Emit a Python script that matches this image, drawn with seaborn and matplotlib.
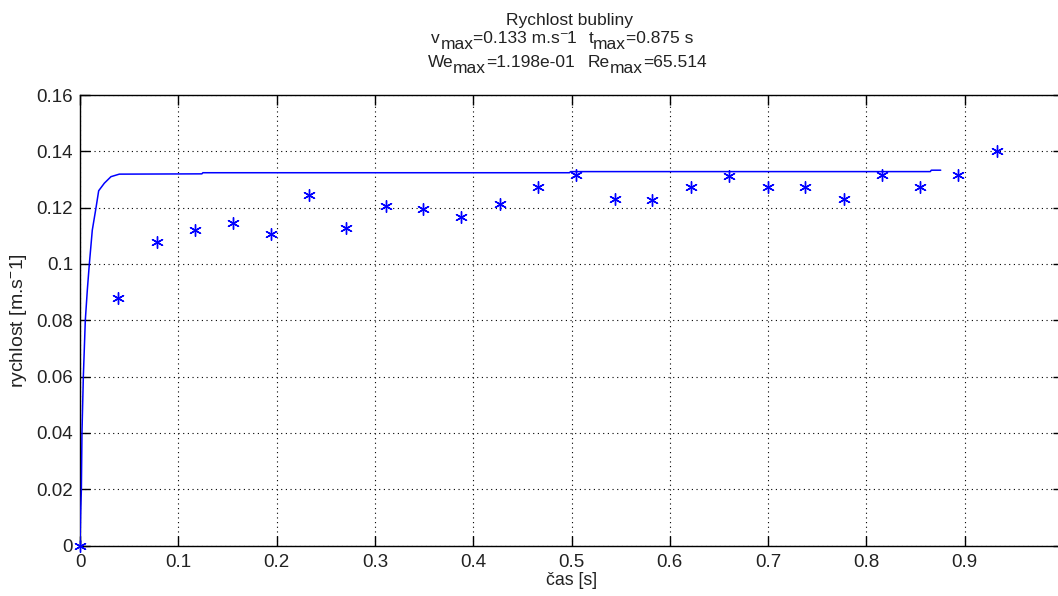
import matplotlib
matplotlib.use("Agg")
import matplotlib.pyplot as plt
import seaborn as sns
import pandas as pd

# measured bubble velocity (asterisks)
star_t = [0.0, 0.039, 0.078, 0.117, 0.156, 0.194, 0.233, 0.271, 0.311, 0.349,
          0.388, 0.427, 0.466, 0.505, 0.544, 0.582, 0.622, 0.660, 0.700, 0.738,
          0.777, 0.816, 0.855, 0.893, 0.933]
star_v = [0.0, 0.0879, 0.1077, 0.1121, 0.1145, 0.1107, 0.1245, 0.1127, 0.1206, 0.1194,
          0.1166, 0.1212, 0.1275, 0.1316, 0.1231, 0.1227, 0.1272, 0.1314, 0.1272, 0.1272,
          0.1231, 0.1316, 0.1272, 0.1316, 0.1402]

# computed velocity curve
line_t = [0.0, 0.0007, 0.0014, 0.002, 0.0034, 0.0054, 0.0075, 0.0095, 0.0125, 0.0163,
          0.019, 0.0248, 0.0315, 0.040, 0.124, 0.125, 0.498, 0.499, 0.865, 0.866, 0.8756]
line_v = [0.0, 0.012, 0.02, 0.04, 0.06, 0.08, 0.091, 0.10, 0.112, 0.12,
          0.126, 0.1287, 0.131, 0.1319, 0.1320, 0.1324, 0.1324, 0.1328, 0.1328, 0.1333, 0.1333]

x_ticks = [0.0, 0.1, 0.2, 0.3, 0.4, 0.5, 0.6, 0.7, 0.8, 0.9]
x_labels = ["0", "0.1", "0.2", "0.3", "0.4", "0.5", "0.6", "0.7", "0.8", "0.9"]
y_ticks = [0.0, 0.02, 0.04, 0.06, 0.08, 0.10, 0.12, 0.14, 0.16]
y_labels = ["0", "0.02", "0.04", "0.06", "0.08", "0.1", "0.12", "0.14", "0.16"]

# title lines as (text, vertical offset in px, gap before in px, font size)
title_1 = [("Rychlost bubliny", 0, 0, 12.5)]
title_2 = [("v", 0, 0, 12.5), ("max", 6, 1, 12.5), ("=0.133 m.s", 0, 0, 12.5),
           ("¯", 0, 0, 8.5), ("1", 0, 0, 12.5),
           ("t", 0, 12, 12.5), ("max", 6, 0, 12.5), ("=0.875 s", 0, 0, 12.5)]
title_3 = [("We", 0, 0, 12.5), ("max", 6, 0, 12.5), ("=1.198e-01", 0, 0, 12.5),
           ("Re", 0, 13, 12.5), ("max", 6, 0, 12.5), ("=65.514", 0, 0, 12.5)]
x_title = "čas [s]"
y_title = r"rychlost [m.s$^{\mathregular{-}}$1]"

sns.set_theme(style="white")
plt.rcParams["font.family"] = ["Liberation Sans", "DejaVu Sans"]
plt.rcParams["mathtext.fontset"] = "custom"
plt.rcParams["mathtext.rm"] = "Liberation Sans"
plt.rcParams["mathtext.it"] = "Liberation Sans"
plt.rcParams["mathtext.default"] = "regular"

TXT = "#222222"
W, H = 1058, 596
fig = plt.figure(figsize=(W / 100, H / 100), dpi=100)
fig.patch.set_facecolor("white")
ax = fig.add_axes([80 / W, (H - 545.6) / H, 983 / W, 450.6 / H])
ax.set_facecolor("white")

df_line = pd.DataFrame({"t": line_t, "v": line_v})
df_star = pd.DataFrame({"t": star_t, "v": star_v})

sns.lineplot(data=df_line, x="t", y="v", ax=ax, color="#0000ff", linewidth=1.1,
             sort=False, estimator=None, zorder=3)
sns.scatterplot(data=df_star, x="t", y="v", ax=ax, marker=(6, 2, 0), s=70,
                color="#0000ff", edgecolor="#0000ff", linewidth=1.0,
                zorder=4, clip_on=False)

ax.set_xlim(0, 1.0)
ax.set_ylim(0, 0.16)
ax.set_xticks(x_ticks)
ax.set_xticklabels(x_labels)
ax.set_yticks(y_ticks)
ax.set_yticklabels(y_labels)

ax.grid(True, color="black", linestyle=(0, (1, 3.2)), linewidth=0.8)
ax.set_axisbelow(True)
for sp in ax.spines.values():
    sp.set_color("black")
    sp.set_linewidth(1.0)

ax.tick_params(axis="both", direction="in", length=7, width=1.0, color="black",
               labelsize=13.5, labelcolor=TXT, top=True, right=True,
               bottom=True, left=True)
ax.tick_params(axis="x", pad=6)
ax.tick_params(axis="y", pad=5)

ax.set_xlabel(x_title, fontsize=12.8, color=TXT, labelpad=1)
ax.set_ylabel(y_title, fontsize=14, color=TXT, labelpad=5)


def draw_line(pieces, center_px, base_px):
    """Lay out text pieces left to right, centred on center_px (pixels from left)."""
    items = []
    for s, dy, gap, size in pieces:
        t = fig.text(0, 0, s, fontsize=size, ha="left", va="baseline", color=TXT)
        items.append((t, dy, gap))
    r = fig.canvas.get_renderer()
    widths = [t.get_window_extent(r).width for t, _, _ in items]
    total = sum(widths) + sum(g for _, _, g in items)
    x = center_px - total / 2
    for (t, dy, gap), w in zip(items, widths):
        x += gap
        t.set_position((x / W, 1 - (base_px + dy) / H))
        x += w


draw_line(title_1, 569, 25)
draw_line(title_2, 562, 43)
draw_line(title_3, 567, 67)

fig.savefig("out.png", dpi=100)
